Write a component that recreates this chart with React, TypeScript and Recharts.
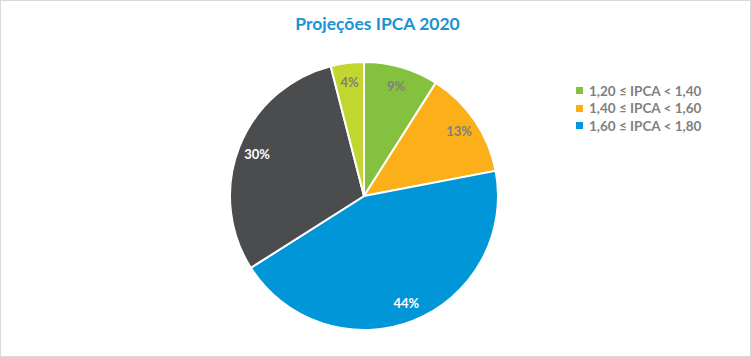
import { PieChart, Pie, Cell } from 'recharts';

const faixas = ['1,20 ≤ IPCA < 1,40', '1,40 ≤ IPCA < 1,60', '1,60 ≤ IPCA < 1,80', '1,80 ≤ IPCA < 2,00', '1,00 ≤ IPCA < 1,20'];
const percentuais = [9, 13, 44, 30, 4];
const cores = ['#84c13f', '#fbb01a', '#0096d7', '#4b4c4e', '#c1d730'];
const coresRotulo = ['#7f7f7f', '#7f7f7f', '#ffffff', '#ffffff', '#7f7f7f'];
// Excel only shows the first three entries in the legend
const legendaVisivel = 3;

const data = faixas.map((name, i) => ({ name, value: percentuais[i] }));

const RAD = Math.PI / 180;
const FONT = 'Lato, "Open Sans", sans-serif';

const renderLabel = (props: any) => {
  const { cx, cy, midAngle, index, value } = props;
  const r = 115;
  const x = cx + r * Math.cos(-midAngle * RAD);
  const y = cy + r * Math.sin(-midAngle * RAD);
  return (
    <text
      x={x}
      y={y}
      fill={coresRotulo[index]}
      textAnchor="middle"
      dominantBaseline="central"
      fontSize={13}
      fontWeight={700}
      fontFamily={FONT}
    >
      {value}%
    </text>
  );
};

export default function App() {
  return (
    <div
      style={{
        position: 'absolute',
        left: 0,
        top: 0,
        width: 749,
        height: 355,
        border: '1px solid #d9d9d9',
        background: '#fff',
        fontFamily: FONT,
      }}
    >
      <div
        style={{
          position: 'absolute',
          left: 0,
          width: 751,
          top: 12,
          textAlign: 'center',
          paddingLeft: 2,
          boxSizing: 'border-box',
          color: '#1a93d3',
          fontWeight: 700,
          fontSize: 17.5,
        }}
      >
        Projeções IPCA 2020
      </div>

      <PieChart
        width={751}
        height={357}
        margin={{ top: 0, right: 0, bottom: 0, left: 0 }}
        style={{ position: 'absolute', left: -1, top: -1 }}
      >
        <Pie
          data={data}
          dataKey="value"
          nameKey="name"
          cx={364}
          cy={196}
          outerRadius={134}
          startAngle={90}
          endAngle={-270}
          stroke="#ffffff"
          strokeWidth={2}
          label={renderLabel}
          labelLine={false}
          isAnimationActive={false}
        >
          {data.map((d, i) => (
            <Cell key={d.name} fill={cores[i]} />
          ))}
        </Pie>
      </PieChart>

      <div style={{ position: 'absolute', left: 575, top: 81 }}>
        {faixas.slice(0, legendaVisivel).map((f, i) => (
          <div
            key={f}
            style={{
              display: 'flex',
              alignItems: 'center',
              height: 17.5,
              color: '#7f7f7f',
              fontWeight: 700,
              fontSize: 13.5,
            }}
          >
            <span style={{ width: 7, height: 7, background: cores[i], marginRight: 6, display: 'inline-block' }} />
            {f}
          </div>
        ))}
      </div>
    </div>
  );
}
